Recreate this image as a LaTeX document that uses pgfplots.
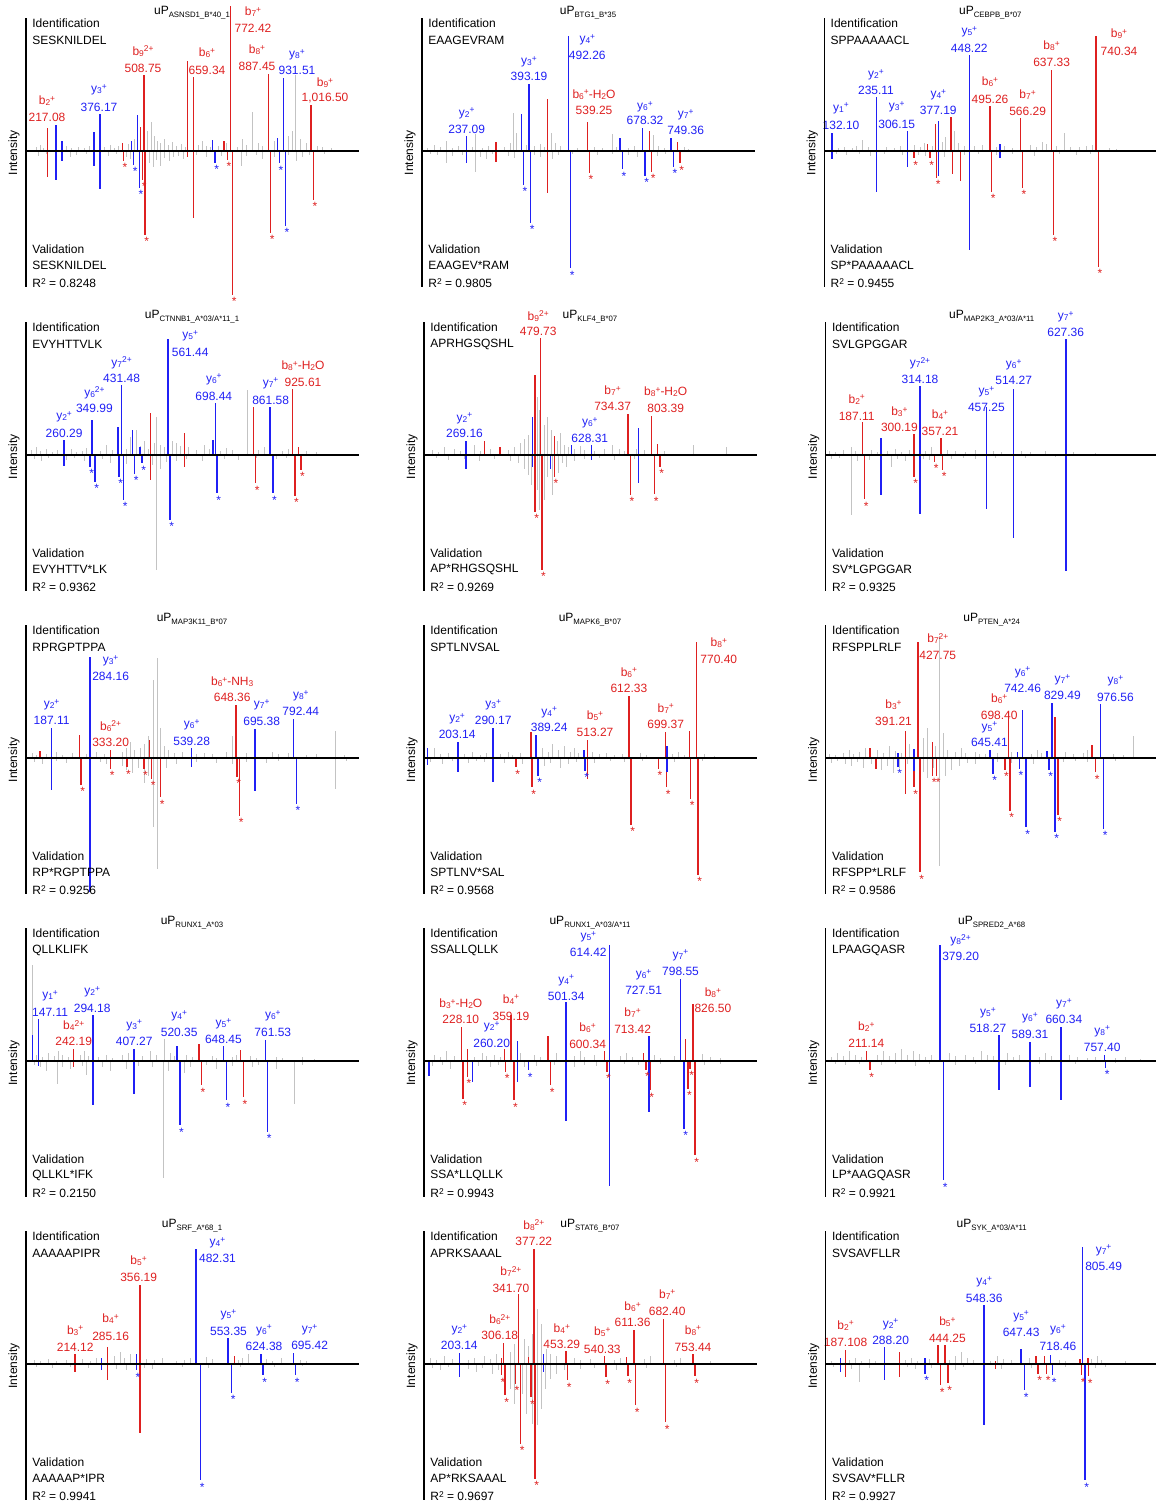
\documentclass[border=0pt]{standalone}
\usepackage{fontspec}
\setmainfont{Liberation Sans}
\usepackage{pgfplots}
\pgfplotsset{compat=1.18}
\definecolor{cr}{RGB}{222,32,32}
\definecolor{cb}{RGB}{32,32,245}
\definecolor{cg}{RGB}{195,195,195}
\newcommand\lf{\fontsize{6}{7}\selectfont}
\newcommand\sm{\fontsize{4.2}{4}\selectfont}
\newcommand\ion[2]{\raisebox{-0.5pt}{\sm #1}\raisebox{1.7pt}{\sm #2}}
\newcommand\low[1]{\raisebox{-0.5pt}{\sm #1}}
\newcommand\lab[6]{\node[text=#1,font=\lf,inner sep=0pt] at (axis cs:#2,#3) {#5};\node[text=#1,font=\lf,inner sep=0pt] at (axis cs:#2,#4) {#6};}
\pgfplotsset{
 spec/.style={x=0.5pt,y=0.5pt,xmin=0,xmax=333,ymin=-136,ymax=133,
   axis x line=middle, axis y line=left, axis line style={-,black,line width=0.6pt},
   xtick=\empty,ytick=\empty,clip=false,axis on top,anchor=south west},
 gp/.style={ycomb,mark=none,draw=cg,line width=0.45pt},
 rp/.style={ycomb,mark=none,draw=cr,line width=0.75pt},
 bp/.style={ycomb,mark=none,draw=cb,line width=0.75pt},
 rs/.style={rp,nodes near coords={*},every node near coord/.append style={anchor=north,inner sep=0pt,font=\lf,text=cr,xshift=0.8pt,yshift=-1pt}},
 bs/.style={bp,nodes near coords={*},every node near coord/.append style={anchor=north,inner sep=0pt,font=\lf,text=cb,xshift=0.8pt,yshift=-1pt}},
}
\newcommand\panel[8]{%
\begin{axis}[spec, at={({#1*0.5pt},{(1504-#2-136)*0.5pt})}]
#8
\node[anchor=west,font=\lf,inner sep=0pt] at (axis cs:6,128) {Identification};
\node[anchor=west,font=\lf,inner sep=0pt] at (axis cs:6,111) {#4};
\node[anchor=west,font=\lf,inner sep=0pt] at (axis cs:6,-98) {Validation};
\node[anchor=west,font=\lf,inner sep=0pt] at (axis cs:6,-114) {#5};
\node[anchor=west,font=\lf,inner sep=0pt] at (axis cs:6,-132) {R\raisebox{1.8pt}{\sm 2} = #6};
\node[font=\lf,inner sep=0pt] at (axis cs:#7,138) {uP\raisebox{-1.4pt}{\fontsize{3.9}{4}\selectfont #3}};
\node[rotate=90,font=\lf,inner sep=0pt] at (axis cs:-12,-2) {Intensity};
\end{axis}}
\begin{document}
\begin{tikzpicture}
\useasboundingbox (0,0) rectangle (578pt,752pt);
% ---------- Panel 1
\panel{26}{151}{ASNSD1\_B*40\_1}{SESKNILDEL}{SESKNILDEL}{0.8248}{166}{
\addplot[gp] coordinates {(10,4)(14,6)(17,3)(40,5)(45,3)(52,4)(58,3)(63,5)(78,4)(84,6)(88,3)(92,5)(102,7)(108,12)(117,61)(121,20)(125,29)(128,15)(131,10)(134,8)(138,12)(142,6)(146,9)(150,5)(155,7)(159,4)(172,6)(176,10)(180,5)(184,4)(192,5)(200,8)(211,4)(216,12)(220,6)(226,39)(232,8)(236,5)(248,10)(262,15)(266,20)(269,76)(274,12)(280,8)(291,5)(296,4)(305,3)(12,-5)(20,-3)(44,-6)(50,-4)(60,-3)(82,-5)(90,-3)(100,-6)(104,-8)(123,-12)(127,-16)(130,-9)(134,-15)(138,-7)(143,-10)(147,-6)(152,-5)(157,-8)(170,-4)(180,-6)(195,-5)(215,-15)(220,-5)(230,-4)(236,-8)(248,-6)(262,-4)(270,-10)(276,-6)(283,-4)(298,-3)};
\addplot[rp] coordinates {(21.7,22.7)(96.7,7.7)(114.7,24.3)(118,76)(161.7,90)(167.3,73.7)(198,9.7)(204.7,145)(242.7,76.7)(285,46)(21.7,-25.7)(161.7,-6)(167.3,-67)};
\addplot[rs] coordinates {(97.3,-10)(116.7,-29)(119,-84)(201.3,-9)(206.7,-144)(244.7,-82)(287.3,-49)};
\addplot[bp] coordinates {(30,26)(36,10)(68,18.7)(74,36.7)(105.7,10)(111.3,36)(186.3,11)(251.7,13)(257.3,73.3)(30,-29)(36,-10)(68,-14.7)(74,-38)};
\addplot[bs] coordinates {(107.7,-14)(113.3,-36.7)(189,-11.7)(253.3,-12.3)(259.3,-75)};
\lab{cr}{21}{50}{34}{b\ion{2}{+}}{217.08}
\lab{cb}{73}{61}{44}{y\ion{3}{+}}{376.17}
\lab{cr}{117}{100}{83}{b\ion{9}{2+}}{508.75}
\lab{cr}{181}{98}{81}{b\ion{6}{+}}{659.34}
\lab{cr}{227}{139}{123}{b\ion{7}{+}}{772.42}
\lab{cr}{231}{101}{85}{b\ion{8}{+}}{887.45}
\lab{cb}{271}{96}{81}{y\ion{8}{+}}{931.51}
\lab{cr}{299}{68}{53}{b\ion{9}{+}}{1,016.50}
}
% ---------- Panel 2
\panel{422}{151}{BTG1\_B*35}{EAAGEVRAM}{EAAGEV*RAM}{0.9805}{166}{
\addplot[gp] coordinates {(5,3)(12,6)(18,4)(24,10)(30,3)(36,5)(50,4)(53,17)(60,3)(66,5)(82,4)(88,8)(91,38)(94,18)(104,6)(112,5)(118,7)(122,4)(129,18)(133,8)(138,5)(155,3)(172,4)(180,3)(190,17)(194,4)(206,3)(212,5)(231,16)(236,5)(242,3)(262,4)(266,2)(8,-3)(15,-4)(24,-12)(30,-5)(40,-4)(53,-21)(58,-6)(64,-8)(70,-3)(86,-5)(92,-7)(112,-4)(118,-6)(130,-8)(136,-4)(150,-3)(175,-4)(190,-3)(206,-4)(215,-6)(235,-5)(243,-3)};
\addplot[rp] coordinates {(74,9.3)(125.7,51.7)(165.3,29.3)(227.3,20)(255.7,9.3)(74,-10.7)(125.7,-41.7)};
\addplot[rs] coordinates {(167.3,-21.7)(229.7,-20.7)(258,-12.3)};
\addplot[bp] coordinates {(44.7,15)(99.7,36.7)(107,66.7)(146.3,115)(198,13.3)(220.7,23.3)(249,13.3)(44.7,-12.3)};
\addplot[bs] coordinates {(101.3,-34)(108.7,-71.7)(148.7,-117.3)(200.3,-18.3)(223,-24.7)(251.3,-15.7)};
\lab{cb}{44.7}{37.7}{22}{y\ion{2}{+}}{237.09}
\lab{cb}{107}{89.3}{74.3}{y\ion{3}{+}}{393.19}
\lab{cb}{165.3}{111}{96}{y\ion{4}{+}}{492.26}
\lab{cr}{172}{56.7}{40.3}{b\ion{6}{+}-H\low{2}O}{539.25}
\lab{cb}{223}{44.3}{30.3}{y\ion{6}{+}}{678.32}
\lab{cb}{263.7}{36}{20.3}{y\ion{7}{+}}{749.36}
}
% ---------- Panel 3
\panel{824.3}{151}{CEBPB\_B*07}{SPPAAAAACL}{SP*PAAAAACL}{0.9455}{166}{
\addplot[gp] coordinates {(14,3)(20,4)(28,3)(32,5)(38,11)(44,4)(62,4)(70,3)(76,5)(90,6)(96,4)(100,8)(108,5)(118,9)(121,14)(130,20)(134,8)(140,5)(150,5)(158,6)(172,4)(180,5)(188,3)(206,6)(212,4)(218,9)(222,7)(232,5)(240,18)(246,4)(255,4)(262,5)(268,6)(285,3)(292,2)(12,-3)(22,-4)(35,-3)(46,-5)(60,-3)(78,-4)(94,-4)(101,-5)(120,-6)(140,-4)(154,-3)(172,-4)(188,-3)(210,-5)(235,-3)(252,-4)(266,-3)};
\addplot[rp] coordinates {(103.3,7)(111.3,27)(126.7,34.3)(165.7,45)(196.3,33.3)(227.3,81)(271.7,115)(128.3,-23)(136.3,-29.7)};
\addplot[rs] coordinates {(89.7,-7.3)(105.7,-7.3)(112.3,-26.7)(167.3,-40.7)(198,-36.7)(229,-84)(274,-115.7)};
\addplot[bp] coordinates {(7.7,17.7)(52.4,53.7)(83,20)(114,30)(145,96)(175.7,6.7)(7.7,-8.3)(52.4,-40.7)(83,-15.7)(114,-24.7)(145,-99)(175.7,-6.7)};
\lab{cb}{16.7}{42.7}{26}{y\ion{1}{+}}{132.10}
\lab{cb}{51.7}{76}{61}{y\ion{2}{+}}{235.11}
\lab{cb}{72.4}{44.3}{27}{y\ion{3}{+}}{306.15}
\lab{cb}{114}{56}{41}{y\ion{4}{+}}{377.19}
\lab{cb}{145}{119.3}{102.7}{y\ion{5}{+}}{448.22}
\lab{cr}{165.7}{69.3}{52}{b\ion{6}{+}}{495.26}
\lab{cr}{203.3}{56}{40}{b\ion{7}{+}}{566.29}
\lab{cr}{227.3}{105}{88.3}{b\ion{8}{+}}{637.33}
\lab{cr}{294.7}{117}{99.3}{b\ion{9}{+}}{740.34}
}
% ---------- Panel 4
\panel{26}{455}{CTNNB1\_A*03/A*11\_1}{EVYHTTVLK}{EVYHTTV*LK}{0.9362}{166}{
\addplot[gp] coordinates {(5,5)(10,8)(14,4)(20,6)(26,3)(31,5)(45,6)(50,3)(56,4)(60,7)(74,4)(80,10)(86,5)(100,6)(104,18)(110,25)(114,9)(118,14)(122,6)(128,12)(130,38)(134,10)(138,8)(146,14)(150,12)(154,9)(162,8)(170,5)(178,10)(183,6)(194,4)(200,7)(206,5)(221.7,65)(232,5)(238,8)(256,4)(262,6)(280,4)(290,3)(8,-4)(15,-6)(22,-3)(40,-5)(48,-3)(58,-6)(76,-4)(84,-8)(100,-9)(108,-6)(126,-10)(130.3,-115)(134,-14)(140,-7)(150,-6)(160,-4)(176,-6)(198,-4)(212,-5)(230,-3)(250,-4)(260,-3)};
\addplot[rp] coordinates {(124.4,41.7)(158.3,21.7)(227.6,48.3)(266.7,65.7)(272.6,7.7)(124.4,-25)(158.3,-12.3)};
\addplot[rs] coordinates {(229.6,-28.3)(268.9,-41)(274.8,-15)};
\addplot[bp] coordinates {(38.1,15)(66.2,35)(92,28.3)(95.6,70)(106.7,25)(114,8.3)(142,115.7)(187,15)(189.3,52.3)(243.8,48.3)(38.1,-11)};
\addplot[bs] coordinates {(64,-12)(69,-27)(93,-21.7)(97.5,-45)(108.5,-19)(116,-8.3)(144,-65)(191,-38.3)(246.8,-38.3)};
\lab{cb}{38.1}{38.3}{21.7}{y\ion{2}{+}}{260.29}
\lab{cb}{68.4}{62.3}{46.7}{y\ion{6}{2+}}{349.99}
\lab{cb}{95.6}{92.3}{76.7}{y\ion{7}{2+}}{431.48}
\lab{cb}{164.2}{119}{102.3}{y\ion{5}{+}}{561.44}
\lab{cb}{187.8}{75.7}{59}{y\ion{6}{+}}{698.44}
\lab{cb}{244.6}{71.7}{55}{y\ion{7}{+}}{861.58}
\lab{cr}{277}{89}{72.3}{b\ion{8}{+}-H\low{2}O}{925.61}
}
% ---------- Panel 5
\panel{424}{455}{KLF4\_B*07}{APRHGSQSHL}{AP*RHGSQSHL}{0.9269}{166}{
\addplot[gp] coordinates {(8,5)(14,3)(20,8)(30,6)(36,4)(50,10)(56,4)(66,6)(84,5)(90,8)(96,12)(100,16)(104,20)(113,58)(115,45)(120,30)(123,38)(127,25)(133,14)(136,22)(140,10)(144,8)(150,6)(156,9)(160,5)(170,4)(180,6)(188,10)(195,6)(200,4)(212,6)(220,5)(240,4)(269,10)(302,8)(12,-3)(24,-5)(40,-4)(55,-6)(70,-4)(86,-6)(94,-8)(100,-14)(104,-20)(107,-30)(113,-35)(115,-55)(120,-45)(123,-22)(128,-40)(134,-18)(138,-8)(142,-12)(150,-6)(160,-4)(175,-3)(190,-5)(210,-4)};
\addplot[rp] coordinates {(60.4,14.3)(75.8,7.7)(111.2,80)(116.4,116.7)(130.4,19)(204.1,41)(227.7,39.3)(233.6,10.7)};
\addplot[rs] coordinates {(111.2,-56.7)(117.9,-115)(130.4,-21.7)(206.3,-40)(230.7,-39.3)(236,-11.7)};
\addplot[bp] coordinates {(42,14)(108.3,38.3)(147.4,10)(167.3,10)(214.5,27.3)(42,-14.3)(108.3,-11.7)(126.7,-14)(167.3,-5)(214.5,-27.7)};
\lab{cb}{40.5}{36.7}{21.7}{y\ion{2}{+}}{269.16}
\lab{cr}{114.2}{139}{123.3}{b\ion{9}{2+}}{479.73}
\lab{cr}{188.6}{64.3}{48.3}{b\ion{7}{+}}{734.37}
\lab{cr}{241.7}{63.3}{46.7}{b\ion{8}{+}-H\low{2}O}{803.39}
\lab{cb}{165.8}{32.3}{16.7}{y\ion{6}{+}}{628.31}
}
% ---------- Panel 6
\panel{825.7}{455}{MAP2K3\_A*03/A*11}{SVLGPGGAR}{SV*LGPGGAR}{0.9325}{166}{
\addplot[gp] coordinates {(4,4)(10,3)(18,5)(26,8)(30,4)(46,5)(52,3)(62,4)(70,6)(76,3)(84,5)(100,4)(106,8)(122,5)(130,4)(140,3)(150,5)(168,4)(176,3)(196,4)(205,3)(220,4)(248,3)(270,2)(6,-4)(14,-3)(26,-60)(32,-6)(44,-5)(66,-12)(72,-4)(80,-6)(98,-4)(104,-5)(126,-4)(138,-3)(150,-4)(170,-3)(200,-3)(230,-2)};
\addplot[rp] coordinates {(36.9,32.7)(88.5,20.7)(115.1,17.3)};
\addplot[rs] coordinates {(39,-44.3)(88.5,-21.7)(109,-6.7)(117,-15)};
\addplot[bp] coordinates {(55.3,17.3)(94.3,69)(160.7,48.3)(188,65.7)(240.3,115.7)(55.3,-40)(94.3,-59.3)(160.7,-54.3)(188,-82.7)(240.3,-116)};
\lab{cr}{31}{55.7}{39}{b\ion{2}{+}}{187.11}
\lab{cr}{73.7}{43.3}{27.7}{b\ion{3}{+}}{300.19}
\lab{cr}{114.3}{40}{23.3}{b\ion{4}{+}}{357.21}
\lab{cb}{94.3}{91.7}{75.7}{y\ion{7}{2+}}{314.18}
\lab{cb}{160.7}{63.3}{47.3}{y\ion{5}{+}}{457.25}
\lab{cb}{188}{90}{75}{y\ion{6}{+}}{514.27}
\lab{cb}{240}{138.3}{122.3}{y\ion{7}{+}}{627.36}
}
% ---------- Panel 7
\panel{26}{758}{MAP3K11\_B*07}{RPRGPTPPA}{RP*RGPTPPA}{0.9256}{166}{
\addplot[gp] coordinates {(6,5)(10,3)(20,4)(30,6)(36,3)(46,5)(60,4)(70,6)(78,4)(96,6)(100,10)(104,16)(108,8)(114,10)(118,14)(122,22)(127,78)(131,100)(134,30)(138,12)(142,8)(148,5)(156,6)(170,4)(178,5)(186,4)(200,6)(206,22)(220,5)(228,4)(246,6)(252,4)(262,5)(280,3)(290,4)(309,27)(318,3)(8,-4)(16,-6)(30,-3)(40,-5)(74,-4)(80,-6)(96,-8)(100,-12)(106,-15)(112,-10)(118,-25)(122,-18)(127,-69)(131,-111)(134,-20)(140,-10)(150,-6)(170,-4)(190,-5)(206,-6)(220,-4)(240,-5)(252,-3)(270,-4)(309,-31)(320,-3)};
\addplot[rp] coordinates {(13.8,6.7)(53.6,23.3)(84.6,8.3)(123.7,18)(209.9,53.3)};
\addplot[rs] coordinates {(55,-27)(84.6,-11)(100.8,-9.3)(117.8,-11)(125.5,-21)(134.7,-39.3)(211,-19)(213.6,-57.7)};
\addplot[bp] coordinates {(25.6,29.7)(64,100.7)(165.7,9.7)(229.1,29)(267.4,39)(25.6,-32)(64,-134.3)(165.7,-8.7)(229.1,-32.7)};
\addplot[bs] coordinates {(270.4,-46)};
\lab{cb}{25.6}{53}{37.3}{y\ion{2}{+}}{187.11}
\lab{cb}{84.6}{97.3}{81.7}{y\ion{3}{+}}{284.16}
\lab{cr}{84.6}{31.7}{15.7}{b\ion{6}{2+}}{333.20}
\lab{cb}{165.7}{33}{16.3}{y\ion{6}{+}}{539.28}
\lab{cr}{206.2}{76.3}{60.7}{b\ion{6}{+}-NH\low{3}}{648.36}
\lab{cb}{235.7}{53}{36.3}{y\ion{7}{+}}{695.38}
\lab{cb}{274.8}{62.3}{46.3}{y\ion{8}{+}}{792.44}
}
% ---------- Panel 8
\panel{424}{758}{MAPK6\_B*07}{SPTLNVSAL}{SPTLNV*SAL}{0.9568}{166}{
\addplot[gp] coordinates {(10,10)(16,4)(24,5)(40,4)(48,6)(56,3)(62,5)(76,4)(84,6)(88,3)(96,5)(118,10)(124,6)(128,14)(134,8)(140,12)(146,6)(150,10)(154,5)(168,6)(175,4)(182,5)(190,3)(198,4)(216,5)(222,3)(248,4)(254,6)(260,3)(280,4)(290,2)(6,-4)(18,-6)(28,-3)(44,-5)(52,-3)(60,-4)(80,-5)(98,-6)(120,-8)(126,-5)(136,-10)(144,-6)(152,-4)(170,-5)(186,-3)(200,-4)(218,-3)(250,-4)(278,-3)};
\addplot[rp] coordinates {(106.8,25.7)(112.5,7.3)(163.6,18)(204.9,62.3)(241.7,25.7)(265.3,27.3)(272.7,116.3)(163.6,-21)};
\addplot[rs] coordinates {(92,-9.3)(108,-29.3)(207,-67)(234.4,-11)(242.7,-29.3)(266.5,-41)(274,-117)};
\addplot[bp] coordinates {(3.6,9.7)(33.8,15.7)(69.2,29.7)(112,23)(159.9,8.3)(243.2,11.7)(3.6,-7)(33.8,-13.7)(69.2,-23.7)(243.2,-14.3)};
\addplot[bs] coordinates {(114,-17.7)(161,-12.7)};
\lab{cb}{33.1}{39}{23.3}{y\ion{2}{+}}{203.14}
\lab{cb}{69.2}{53}{37.3}{y\ion{3}{+}}{290.17}
\lab{cb}{125.2}{45.7}{30.7}{y\ion{4}{+}}{389.24}
\lab{cr}{171}{42.3}{25.7}{b\ion{5}{+}}{513.27}
\lab{cr}{204.9}{85.7}{69.7}{b\ion{6}{+}}{612.33}
\lab{cr}{241.7}{49.7}{33.3}{b\ion{7}{+}}{699.37}
\lab{cr}{294.8}{115}{99}{b\ion{8}{+}}{770.40}
}
% ---------- Panel 9
\panel{825.7}{758}{PTEN\_A*24}{RFSPPLRLF}{RFSPP*LRLF}{0.9586}{166}{
\addplot[gp] coordinates {(4,4)(10,3)(18,5)(24,8)(28,4)(34,6)(40,10)(52,8)(58,5)(64,12)(70,7)(76,5)(84,14)(98,20)(102,30)(110,12)(114,122)(118,25)(122,8)(130,6)(136,10)(140,5)(150,6)(154,4)(160,4)(172,5)(186,6)(206,4)(212,8)(216,5)(240,6)(248,4)(258,5)(262,8)(288,4)(298,3)(307.5,22)(6,-5)(12,-3)(20,-6)(26,-8)(32,-4)(38,-10)(46,-6)(56,-12)(62,-8)(68,-15)(74,-10)(82,-6)(98,-14)(102,-20)(108,-10)(114,-108)(120,-18)(126,-12)(134,-8)(142,-5)(150,-6)(172,-4)(186,-5)(208,-6)(238,-4)(250,-3)(262,-4)(290,-3)};
\addplot[rp] coordinates {(44.3,9.7)(79.6,27.3)(92.2,116.3)(107,15.7)(182.9,46.3)(229.3,41.3)(266.2,13)(50.1,-11)(79.6,-36)};
\addplot[rs] coordinates {(88.5,-29.3)(94.3,-114.3)(107,-17.7)(111,-17.7)(179.2,-11.7)(184.4,-52.7)(232.3,-56.7)(269.8,-14.3)};
\addplot[bp] coordinates {(72.3,5)(88.5,9)(164.4,8.3)(191.7,6.3)(196.9,48.3)(221.2,7.3)(226.3,55)(275,54)(88.5,-13.3)};
\addplot[bs] coordinates {(72.3,-8.7)(167.3,-16)(193.7,-11)(200.5,-69.3)(223.4,-11.7)(229.3,-73.7)(278,-71)};
\lab{cr}{67.8}{53}{36.3}{b\ion{3}{+}}{391.21}
\lab{cr}{112.1}{119.7}{102.3}{b\ion{7}{2+}}{427.75}
\lab{cr}{173.5}{59}{43}{b\ion{6}{+}}{698.40}
\lab{cb}{163.7}{30.7}{15.7}{y\ion{5}{+}}{645.41}
\lab{cb}{196.9}{85.7}{69.7}{y\ion{6}{+}}{742.46}
\lab{cb}{236.7}{78.3}{62.3}{y\ion{7}{+}}{829.49}
\lab{cb}{289.7}{77.3}{60.7}{y\ion{8}{+}}{976.56}
}
% ---------- Panel 10
\panel{26}{1061}{RUNX1\_A*03}{QLLKLIFK}{QLLKL*IFK}{0.2150}{166}{
\addplot[gp] coordinates {(6.4,95.7)(10,6)(16,4)(22,8)(28,5)(32,10)(36,6)(42,4)(54,6)(58,10)(62,5)(72,4)(80,6)(86,3)(96,6)(102,8)(116,5)(124,10)(130,6)(138,22)(144,8)(148,5)(160,6)(166,4)(186,5)(190,3)(206,4)(210,6)(224,5)(230,3)(250,4)(256,3)(276,4)(288,2)(8,-4)(14,-6)(20,-10)(31.5,-22.7)(36,-6)(44,-8)(56,-5)(60,-14)(76,-6)(84,-10)(100,-8)(112,-5)(126,-6)(137.7,-117)(142,-10)(158,-12)(164,-6)(180,-4)(190,-8)(206,-5)(226,-6)(232,-4)(250,-8)(268.9,-42.7)(276,-4)};
\addplot[rp] coordinates {(47.7,12.3)(173,17.3)(214.3,11.3)(47.7,-6)};
\addplot[rs] coordinates {(175.3,-24.3)(217.3,-36)};
\addplot[bp] coordinates {(6.4,26.3)(12.3,42.3)(66.9,46.3)(108.2,12.3)(151,14.7)(197.4,14.7)(239.4,20.7)(12.3,-5.3)(66.9,-44.3)(108.2,-32.7)};
\addplot[bs] coordinates {(153.9,-64.3)(200.3,-39.3)(241.6,-71)};
\lab{cb}{24.1}{65}{49}{y\ion{1}{+}}{147.11}
\lab{cb}{66.2}{69}{53}{y\ion{2}{+}}{294.18}
\lab{cr}{47.7}{35.7}{19.7}{b\ion{4}{2+}}{242.19}
\lab{cb}{108.2}{35.7}{20}{y\ion{3}{+}}{407.27}
\lab{cb}{153.2}{45}{29}{y\ion{4}{+}}{520.35}
\lab{cb}{197.4}{37.3}{21.7}{y\ion{5}{+}}{648.45}
\lab{cb}{246.8}{45}{28.3}{y\ion{6}{+}}{761.53}
}
% ---------- Panel 11
\panel{424}{1061}{RUNX1\_A*03/A*11}{SSALLQLLK}{SSA*LLQLLK}{0.9943}{166}{
\addplot[gp] coordinates {(10,6)(16,4)(22,10)(30,5)(50,4)(58,8)(62,5)(70,6)(76,4)(96,8)(110,6)(116,4)(132,8)(150,5)(156,10)(160,4)(170,6)(196,5)(202,8)(208,4)(230,6)(236,3)(250,5)(278,7)(286,4)(296,3)(8,-5)(18,-4)(26,-8)(54,-5)(66,-6)(74,-4)(100,-6)(112,-5)(130,-4)(150,-6)(160,-4)(172,-5)(200,-3)(214,-4)(236,-3)(280,-4)(296,-3)};
\addplot[rp] coordinates {(37.5,34)(43.4,12.3)(80.3,11.7)(87,46.3)(123.8,24.7)(180.5,9.7)(219.6,8)(261.6,21.7)(269,57.3)};
\addplot[rs] coordinates {(39,-37.7)(43.4,-16)(81.5,-11)(89.9,-39.3)(126.7,-24.3)(182.8,-11)(221.8,-8.7)(226,-29.3)(263.9,-27.7)(266,-8)(271.2,-94.3)};
\addplot[bp] coordinates {(93.5,19.7)(142.2,59)(185.7,116.3)(224.8,24.7)(256.5,82.3)(5.1,-15.3)(48.6,-21)(93.5,-21)(142.2,-60)(185.7,-125.3)(224.8,-51)};
\addplot[bs] coordinates {(104.6,-9.3)(260.2,-67.7)};
\lab{cr}{36.8}{57.3}{41.3}{b\ion{3}{+}-H\low{2}O}{228.10}
\lab{cr}{87}{61.7}{45}{b\ion{4}{+}}{359.19}
\lab{cb}{67.7}{34}{18}{y\ion{2}{+}}{260.20}
\lab{cb}{142.2}{80.7}{64.7}{y\ion{4}{+}}{501.34}
\lab{cb}{164.3}{124}{108.3}{y\ion{5}{+}}{614.42}
\lab{cr}{163.6}{33}{16.3}{b\ion{6}{+}}{600.34}
\lab{cb}{219.6}{86.3}{70.7}{y\ion{6}{+}}{727.51}
\lab{cr}{208.6}{48}{31.7}{b\ion{7}{+}}{713.42}
\lab{cb}{256.5}{105.7}{89.7}{y\ion{7}{+}}{798.55}
\lab{cr}{288.9}{68.3}{52.3}{b\ion{8}{+}}{826.50}
}
% ---------- Panel 12
\panel{825.7}{1061}{SPRED2\_A*68}{LPAAGQASR}{LP*AAGQASR}{0.9921}{166}{
\addplot[gp] coordinates {(6,4)(12,8)(18,5)(24,10)(30,6)(36,4)(52,6)(58,10)(64,5)(70,8)(76,12)(82,6)(88,10)(94,7)(100,4)(106,6)(124,8)(130,5)(140,6)(148,4)(156,10)(162,6)(168,5)(182,8)(188,4)(194,6)(214,4)(220,8)(226,5)(244,6)(252,4)(262,3)(270,4)(290,3)(300,4)(315,2)(10,-3)(20,-4)(34,-3)(56,-4)(70,-3)(90,-5)(104,-3)(130,-4)(150,-3)(180,-4)(214,-3)(250,-3)(290,-2)};
\addplot[rp] coordinates {(40.6,9.7)};
\addplot[rs] coordinates {(44.3,-9.3)};
\addplot[bp] coordinates {(114.3,116.3)(173.3,25.7)(204.3,19)(235.2,34)(278.7,6.3)(173.3,-28.7)(204.3,-26)(235.2,-39.3)};
\addplot[bs] coordinates {(118,-119.3)(280,-7)};
\lab{cr}{40.6}{34}{17.3}{b\ion{2}{+}}{211.14}
\lab{cb}{134.9}{120.7}{104.7}{y\ion{8}{2+}}{379.20}
\lab{cb}{162.2}{48}{32.3}{y\ion{5}{+}}{518.27}
\lab{cb}{204.3}{43}{26.3}{y\ion{6}{+}}{589.31}
\lab{cb}{238.2}{57.3}{41.3}{y\ion{7}{+}}{660.34}
\lab{cb}{276.5}{29.7}{14}{y\ion{8}{+}}{757.40}
}
% ---------- Panel 13
\panel{26}{1364}{SRF\_A*68\_1}{AAAAAPIPR}{AAAAAP*IPR}{0.9941}{166}{
\addplot[gp] coordinates {(8,4)(14,3)(22,5)(30,3)(40,4)(56,5)(64,3)(70,6)(88,8)(94,12)(98,6)(104,10)(120,5)(128,4)(136,6)(150,3)(158,4)(164,6)(180,7)(186,5)(212,4)(216,6)(222,10)(240,5)(246,3)(255,6)(274,4)(280,3)(10,-3)(26,-4)(44,-3)(62,-4)(90,-5)(100,-6)(118,-4)(126,-5)(156,-3)(182,-4)(214,-3)(248,-3)(276,-2)};
\addplot[rp] coordinates {(49.2,9.7)(81.6,17)(114,78.7)(208.4,7.7)(49.2,-8)(81.6,-16.3)(114,-69)};
\addplot[bp] coordinates {(75.7,6.3)(110.4,10.3)(170.1,115.3)(201.8,26)(235,10.3)(267.4,11.3)(75.7,-5.7)};
\addplot[bs] coordinates {(110.4,-6.3)(174.5,-116.3)(205.5,-28.7)(237.2,-11.3)(269.6,-11.3)};
\lab{cr}{49.2}{33.7}{16.3}{b\ion{3}{+}}{214.12}
\lab{cr}{84.6}{45.3}{28}{b\ion{4}{+}}{285.16}
\lab{cr}{112.6}{103}{86.3}{b\ion{5}{+}}{356.19}
\lab{cb}{191.5}{121}{105.3}{y\ion{4}{+}}{482.31}
\lab{cb}{202.5}{49.3}{33}{y\ion{5}{+}}{553.35}
\lab{cb}{238}{33.7}{17.7}{y\ion{6}{+}}{624.38}
\lab{cb}{283.6}{34.3}{18.7}{y\ion{7}{+}}{695.42}
}
% ---------- Panel 14
\panel{424}{1364}{STAT6\_B*07}{APRKSAAAL}{AP*RKSAAAL}{0.9697}{166}{
\addplot[gp] coordinates {(6,6)(12,4)(20,8)(28,5)(44,4)(50,6)(60,8)(66,5)(72,10)(86,12)(90,20)(100,25)(104,18)(108,30)(113,55)(117,40)(122,15)(126,10)(132,8)(150,6)(156,4)(166,5)(190,4)(196,6)(220,5)(226,8)(250,4)(256,6)(286,3)(8,-4)(16,-6)(24,-3)(44,-5)(52,-8)(58,-4)(68,-10)(74,-6)(86,-25)(90,-40)(98,-30)(102,-50)(108,-60)(113,-61)(117,-45)(121,-25)(126,-15)(132,-10)(140,-6)(156,-5)(170,-4)(192,-6)(222,-4)(252,-3)};
\addplot[rp] coordinates {(77.3,6.3)(79.5,21)(94.3,70.3)(104.6,7)(109.8,115.3)(142.2,12.7)(180.5,7.7)(202.7,7)(210,33.7)(239.5,45.3)(269,9.7)};
\addplot[rs] coordinates {(77.3,-11.3)(81,-31.3)(91.3,-19.7)(96.5,-79.7)(106.8,-33)(111.2,-114.7)(143.7,-16.3)(182,-13)(204,-12.3)(211.5,-41.3)(241.7,-58)(271.2,-12.3)};
\addplot[bp] coordinates {(35.3,11)(119.3,10.3)(35.3,-13)(119.3,-8)};
\lab{cb}{35.3}{34.3}{18.7}{y\ion{2}{+}}{203.14}
\lab{cr}{75.8}{44.3}{28.7}{b\ion{6}{2+}}{306.18}
\lab{cr}{86.9}{92.7}{76}{b\ion{7}{2+}}{341.70}
\lab{cr}{109.8}{138.7}{122.7}{b\ion{8}{2+}}{377.22}
\lab{cr}{137.8}{35.3}{19.7}{b\ion{4}{+}}{453.29}
\lab{cr}{178.3}{32}{14.7}{b\ion{5}{+}}{540.33}
\lab{cr}{208.6}{57}{41.3}{b\ion{6}{+}}{611.36}
\lab{cr}{243.2}{69.7}{53}{b\ion{7}{+}}{682.40}
\lab{cr}{269}{33.7}{16.3}{b\ion{8}{+}}{753.44}
}
% ---------- Panel 15
\panel{825.7}{1364}{SYK\_A*03/A*11}{SVSAVFLLR}{SVSAV*FLLR}{0.9927}{166}{
\addplot[gp] coordinates {(6,3)(24,4)(30,6)(36,3)(44,5)(50,3)(80,4)(86,6)(92,3)(104,5)(124,4)(130,8)(136,12)(142,6)(148,4)(165,3)(172,8)(178,5)(186,4)(204,6)(234,4)(240,3)(266,5)(272,8)(276,4)(300,3)(8,-3)(26,-5)(34,-18)(44,-4)(82,-3)(90,-5)(106,-4)(130,-6)(138,-3)(176,-5)(206,-4)(240,-3)(270,-4)(280,-3)};
\addplot[rp] coordinates {(19.9,13.7)(73.7,12)(112.1,18.7)(119.5,18.7)(169.6,3)(210.1,7.7)(219,7.7)(254.4,5.3)(262.5,6.3)(19.9,-13)(73.7,-13)(169.6,-5)};
\addplot[rs] coordinates {(115,-21.3)(122.4,-19)(212.4,-9.7)(221,-9.7)(256,-11.3)(263,-12.3)};
\addplot[bp] coordinates {(14.8,6.3)(59,17)(99.5,6)(158.5,58.7)(195.4,15.3)(224.9,9.3)(256.6,117)(14.8,-8)(59,-15.7)(158.5,-61.3)};
\addplot[bs] coordinates {(99.5,-9.7)(199,-26.3)(227,-11.3)(259.5,-116.3)};
\lab{cr}{19.9}{38.7}{22}{b\ion{2}{+}}{187.108}
\lab{cb}{64.9}{39.7}{23.7}{y\ion{2}{+}}{288.20}
\lab{cr}{121.7}{42}{25.3}{b\ion{5}{+}}{444.25}
\lab{cb}{158.5}{82}{65.3}{y\ion{4}{+}}{548.36}
\lab{cb}{195.4}{47.7}{32}{y\ion{5}{+}}{647.43}
\lab{cb}{232.3}{34.3}{17.7}{y\ion{6}{+}}{718.46}
\lab{cb}{277.9}{113.7}{97.7}{y\ion{7}{+}}{805.49}
}
\end{tikzpicture}
\end{document}
